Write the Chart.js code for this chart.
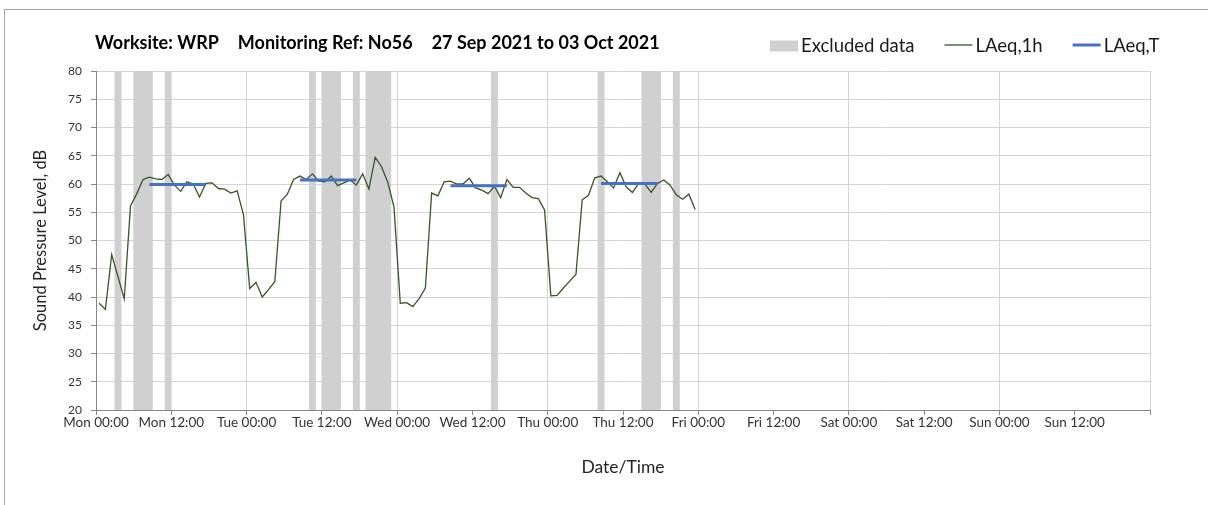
<!DOCTYPE html>
<html>
<head>
<meta charset="utf-8">
<title>Worksite WRP – noise monitoring</title>
<script src="https://cdn.jsdelivr.net/npm/chart.js@4.4.1/dist/chart.umd.min.js"></script>
<style>
  html, body { margin: 0; padding: 0; background: #fff; overflow: hidden; }
  #frame { position: absolute; left: 4px; top: 9px; width: 1400px; height: 700px; border: 1px solid #a6a6a6; }
  #wrap  { position: absolute; left: 0; top: 0; width: 1208px; height: 505px; }
</style>
</head>
<body>
<div id="frame"></div>
<div id="wrap"><canvas id="chart"></canvas></div>
<script>
// ============================================================
// Weekly noise plot — hourly LAeq, period LAeq and excluded hours
// x axis is in hours from Mon 00:00 (0 … 168)
// ============================================================

const FONT = 'Lato, "Open Sans", sans-serif';

const TITLE_PARTS = ['Worksite: WRP', 'Monitoring Ref: No56', '27 Sep 2021 to 03 Oct 2021'];

const X_TICK_LABELS = [
  'Mon 00:00', 'Mon 12:00', 'Tue 00:00', 'Tue 12:00', 'Wed 00:00', 'Wed 12:00',
  'Thu 00:00', 'Thu 12:00', 'Fri 00:00', 'Fri 12:00', 'Sat 00:00', 'Sat 12:00',
  'Sun 00:00', 'Sun 12:00', '',
];

const Y_MIN  = 20;
const Y_MAX  = 80;
const Y_STEP = 5;

// LAeq,1h — one value per hour, starting Mon 00:00
const LAEQ_1H = [
  38.9, 37.8, 47.5, 43.6, 39.7, 56.1, 58.3, 60.8, 61.2, 60.9,
  60.8, 61.7, 59.8, 58.7, 60.4, 60.0, 57.7, 60.1, 60.2, 59.2,
  59.1, 58.4, 58.8, 54.6, 41.5, 42.6, 40.0, 41.3, 42.7, 57.0,
  58.2, 60.8, 61.4, 60.8, 61.8, 60.5, 60.4, 61.4, 59.7, 60.2,
  60.7, 59.8, 61.8, 59.1, 64.7, 63.1, 60.3, 55.9, 38.9, 39.0,
  38.3, 39.7, 41.6, 58.4, 57.9, 60.4, 60.5, 60.0, 60.0, 61.0,
  59.3, 58.9, 58.3, 59.6, 57.6, 60.8, 59.4, 59.4, 58.4, 57.6,
  57.4, 55.4, 40.2, 40.3, 41.6, 42.8, 44.0, 57.2, 58.0, 61.1,
  61.4, 60.4, 59.3, 62.0, 59.5, 58.5, 60.1, 60.0, 58.5, 60.1,
  60.7, 59.8, 58.1, 57.3, 58.2, 55.5,
];

// LAeq,T — daytime period averages (first / last hour of each period)
const LAEQ_T_FROM = [8, 32, 56, 80];
const LAEQ_T_TO   = [17, 41, 65, 89];
const LAEQ_T      = [59.9, 60.7, 59.7, 60.1];

// Excluded hours (start hour inclusive, end hour exclusive)
const EXCLUDED_FROM = [3, 6, 11, 34, 36, 41, 43, 63, 80, 87, 92];
const EXCLUDED_TO   = [4, 9, 12, 35, 39, 42, 47, 64, 81, 90, 93];

// ---- Build datasets ----

const hourlyPoints = LAEQ_1H.map((v, h) => ({ x: h + 0.5, y: v }));

const excludedBars = [];
EXCLUDED_FROM.forEach((from, i) => {
  for (let h = from; h < EXCLUDED_TO[i]; h++) {
    excludedBars.push({ x: h + 0.5, y: [Y_MIN, Y_MAX] });
  }
});

const periodPoints = [];
LAEQ_T.forEach((v, i) => {
  periodPoints.push(
    { x: LAEQ_T_FROM[i] + 0.5, y: v },
    { x: LAEQ_T_TO[i] + 0.5,   y: v },
    { x: LAEQ_T_TO[i] + 1,     y: null },   // break between periods
  );
});

// ---- Title + legend drawn on one row above the plot ----

const headerPlugin = {
  id: 'header',
  afterDraw(chart, args, opts) {
    const { ctx } = chart;
    ctx.save();
    ctx.textBaseline = 'middle';
    ctx.textAlign = 'left';

    ctx.font = `bold ${opts.titleSize}px ${FONT}`;
    ctx.fillStyle = '#000';
    let x = opts.titleX;
    TITLE_PARTS.forEach(part => {
      ctx.fillText(part, x, opts.titleY);
      x += ctx.measureText(part).width + opts.titleGap;
    });

    ctx.font = `${opts.legendSize}px ${FONT}`;
    x = opts.legendX;
    chart.data.datasets.forEach(ds => {
      const y = opts.legendY;
      if (ds.type === 'bar') {
        ctx.fillStyle = ds.backgroundColor;
        ctx.fillRect(x, y - 5.5, opts.swatch, 11);
      } else {
        ctx.strokeStyle = ds.borderColor;
        ctx.lineWidth   = ds.borderWidth;
        ctx.beginPath();
        ctx.moveTo(x, y - 1);
        ctx.lineTo(x + opts.swatch, y - 1);
        ctx.stroke();
      }
      x += opts.swatch + 3;
      ctx.fillStyle = '#1a1a1a';
      ctx.fillText(ds.label, x, y);
      x += ctx.measureText(ds.label).width + opts.itemGap;
    });
    ctx.restore();
  },
};

const AXIS_GREY = '#868686';
const GRID_GREY = '#d4d4d4';

new Chart(document.getElementById('chart'), {
  type: 'line',
  data: {
    datasets: [
      {
        type:               'bar',
        label:              'Excluded data',
        data:               excludedBars,
        backgroundColor:    '#d0d0d0',
        borderWidth:        0,
        barPercentage:      1,
        categoryPercentage: 1,
        order:              2,
      },
      {
        label:       'LAeq,1h',
        data:        hourlyPoints,
        borderColor: '#375623',
        borderWidth: 1.3,
        pointRadius: 0,
        tension:     0,
        order:       1,
      },
      {
        label:       'LAeq,T',
        data:        periodPoints,
        borderColor: '#4472c4',
        borderWidth: 3,
        pointRadius: 0,
        spanGaps:    false,
        order:       0,
      },
    ],
  },
  options: {
    responsive:          true,
    maintainAspectRatio: false,
    animation:           false,
    layout: { padding: { left: 4, right: 58, top: 71, bottom: 0 } },
    plugins: {
      legend:  { display: false },
      tooltip: { enabled: false },
      header: {
        titleX: 95, titleY: 43, titleSize: 18, titleGap: 19,
        legendX: 770, legendY: 46, legendSize: 18.5, swatch: 28, itemGap: 30,
      },
    },
    scales: {
      x: {
        type:   'linear',
        min:    0,
        max:    168,
        offset: false,
        afterFit: scale => { scale.height = 95; },
        ticks: {
          stepSize:    12,
          autoSkip:    false,
          maxRotation: 0,
          padding:     0,
          color:       '#333',
          font:        { family: FONT, size: 13.5 },
          callback:    (v, i) => X_TICK_LABELS[i],
        },
        grid: {
          offset:     false,
          color:      ctx => (ctx.tick && ctx.tick.value > 0 && ctx.tick.value % 24 === 0) ? GRID_GREY : 'rgba(0,0,0,0)',
          tickColor:  AXIS_GREY,
          tickLength: 5,
        },
        border: { color: AXIS_GREY },
        title: {
          display: true,
          text:    'Date/Time',
          color:   '#262626',
          font:    { family: FONT, size: 17.5 },
          padding: { top: 4, bottom: 27 },
        },
      },
      y: {
        min: Y_MIN,
        max: Y_MAX,
        afterFit: scale => { scale.width = 92; },
        ticks: {
          stepSize: Y_STEP,
          padding:  9,
          color:    '#333',
          font:     { family: FONT, size: 12 },
        },
        grid: {
          color:      ctx => (ctx.tick && ctx.tick.value > Y_MIN) ? GRID_GREY : 'rgba(0,0,0,0)',
          tickColor:  AXIS_GREY,
          tickLength: 5,
        },
        border: { color: AXIS_GREY },
        title: {
          display: true,
          text:    'Sound Pressure Level, dB',
          color:   '#262626',
          font:    { family: FONT, size: 16.5 },
          padding: { top: 27, bottom: 0 },
        },
      },
    },
  },
  plugins: [headerPlugin],
});
</script>
</body>
</html>
